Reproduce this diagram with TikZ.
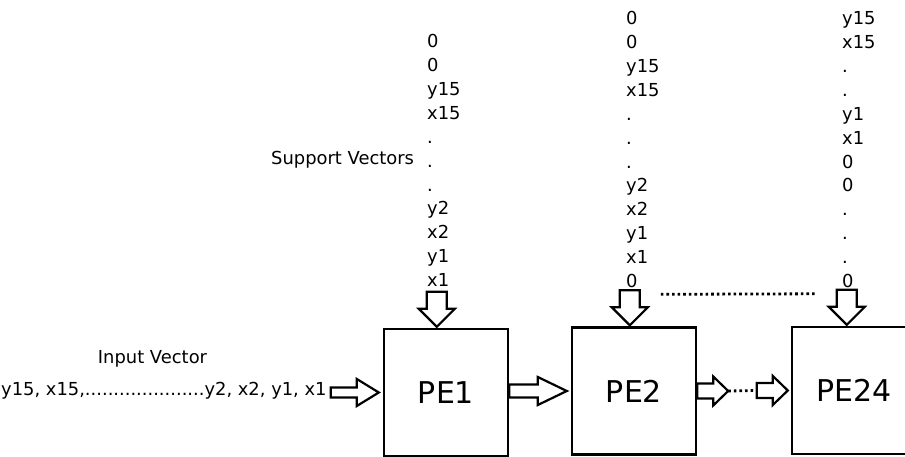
\documentclass[tikz,border=0pt]{standalone}
\usepackage{fontspec}
\setmainfont{DejaVu Sans}
\usetikzlibrary{calc}

% hollow block arrow pointing down, tip at #1
\newcommand\downblock[1]{%
  \draw[blk] (#1) -- ++(-18,-18) -- ++(8,0) -- ++(0,-17) -- ++(20,0)
    -- ++(0,17) -- ++(8,0) -- cycle;}
% hollow block arrow pointing right:
% #1 tail, #2 tip, #3 head length, #4 head half height, #5 shaft half height
\newcommand\rightblock[5]{%
  \draw[blk] ($(#1)+(0,-#5)$) -- ($(#2)+(-#3,-#5)$) -- ($(#2)+(-#3,-#4)$)
    -- (#2) -- ($(#2)+(-#3,#4)$) -- ($(#2)+(-#3,#5)$) -- ($(#1)+(0,#5)$) -- cycle;}

\begin{document}
\begin{tikzpicture}[x=1pt,y=-1pt,
  pebox/.style={draw, line width=2.4pt, minimum width=124pt, minimum height=127pt,
    inner sep=0pt, font=\fontsize{30}{36}\selectfont},
  vec/.style={inner sep=0pt, anchor=base west, font=\fontsize{17.9}{24}\selectfont},
  blk/.style={draw, line width=2.2pt, fill=white, line join=miter},
  dotline/.style={line width=2.8pt, dash pattern=on 2.6pt off 3pt}]
\useasboundingbox (0,0) rectangle (905,457);
\begin{scope}
\clip (0,0) rectangle (905,457);

% processing elements
\node[pebox] (pe1) at (446,392.5) {PE1};
\node[pebox] (pe2) at (634,391) {PE2};
\node[pebox] (pe24) at (854,390.5) {PE24};

% support vector streams
\foreach [count=\i] \t in {0,0,y15,x15,.,.,.,y2,x2,y1,x1}
  \node[vec] (sa\i) at ({427},{48+23.85*(\i-1)}) {\t};
\foreach [count=\i] \t in {0,0,y15,x15,.,.,.,y2,x2,y1,x1,0}
  \node[vec] (sb\i) at ({626},{25+23.85*(\i-1)}) {\t};
\foreach [count=\i] \t in {y15,x15,.,.,y1,x1,0,0,.,.,.,0}
  \node[vec] (sc\i) at ({842},{25+23.85*(\i-1)}) {\t};

\node[vec] (sv) at (271,165) {Support Vectors};
\node[vec, anchor=base] (iv) at (152.5,363) {Input Vector};
\node[vec] (ivec) at (1,395) {y15, x15,.....................y2, x2, y1, x1};

% inputs from the top
\coordinate (d1) at ($(pe1.north west)+(54,-1)$);
\coordinate (d2) at ($(pe2.north west)+(59,-1)$);
\coordinate (d24) at ($(pe24.north west)+(56,-1)$);
\downblock{d1}
\downblock{d2}
\downblock{d24}
\coordinate (g1) at ($(d2)+(31,-31)$);
\coordinate (g2) at ($(d24)+(-31,-31)$);
\draw[dotline] (g1) -- (g2);

% input vector into PE1
\coordinate (inT) at ($(pe1.west)+(-4,0)$);
\coordinate (inS) at ($(inT)+(-48,0)$);
\rightblock{inS}{inT}{22}{13.5}{5}

% PE1 -> PE2
\coordinate (t12) at ($(pe2.west)+(-4,0)$);
\coordinate (s12) at (pe1.east |- t12);
\rightblock{s12}{t12}{29}{14}{6.5}

% PE2 -> ... -> PE24
\coordinate (s2) at (pe2.east);
\coordinate (t2) at ($(s2)+(31,0)$);
\rightblock{s2}{t2}{15}{14.5}{7.5}
\coordinate (t24) at ($(pe24.west)+(-3,0)$);
\coordinate (s24) at ($(t24)+(-31,0)$);
\rightblock{s24}{t24}{15}{14.5}{7.5}
\draw[dotline] (t2) -- (s24);
\end{scope}
\end{tikzpicture}
\end{document}
